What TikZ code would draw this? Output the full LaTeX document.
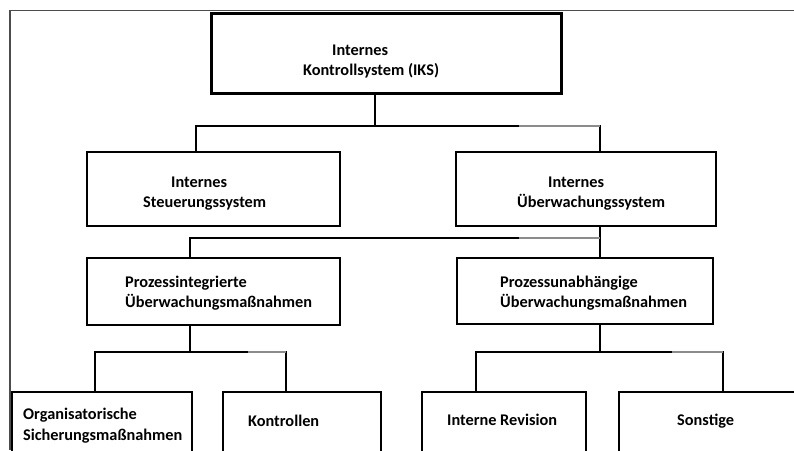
\documentclass[tikz,border=0pt]{standalone}
\usepackage{fontspec}
\setmainfont{Carlito}
\begin{document}
\begin{tikzpicture}[x=1pt,y=-1pt,
  box/.style={draw=black, line width=2pt, inner sep=0pt, fill=white},
  topbox/.style={box, line width=3pt},
  lbl/.style={anchor=base west, inner sep=0pt, font=\fontsize{16.3}{20}\selectfont\bfseries},
  conn/.style={draw=black, line width=1.5pt},
  greyseg/.style={draw=black!45, line width=1.8pt},
  frameline/.style={draw=black!70, line width=1.5pt}]
\useasboundingbox (0,0) rectangle (794,450);
\clip (0,0) rectangle (794,450);
\fill[white] (0,0) rectangle (794,450);
% outer frame
\coordinate (fTL) at (10,10.5);
\coordinate (fTR) at (794,10.5);
\coordinate (fBL) at (10,450);
\draw[frameline] (fTR) -- (fTL) -- (fBL);
% boxes
\node[topbox, minimum width=350pt, minimum height=80pt] (iks) at (386,53) {};
\node[box, minimum width=253pt, minimum height=74pt] (steu) at (213.5,189) {};
\node[box, minimum width=260pt, minimum height=74pt] (ueb) at (586,189) {};
\node[box, minimum width=253pt, minimum height=67pt] (pint) at (213.5,291.5) {};
\node[box, minimum width=256pt, minimum height=66pt] (punab) at (585,291) {};
\node[box, minimum width=180pt, minimum height=90pt] (org) at (102,437) {};
\node[box, minimum width=158pt, minimum height=90pt] (kontr) at (302,437) {};
\node[box, minimum width=164pt, minimum height=90pt] (rev) at (504,437) {};
\node[box, minimum width=200pt, minimum height=90pt] (sonst) at (719,437) {};
% texts
\node[lbl] (t1a) at (332,55) {Internes};
\node[lbl] (t1b) at (303,75) {Kontrollsystem (IKS)};
\node[lbl] (t2a) at (171,187) {Internes};
\node[lbl] (t2b) at (143,207) {Steuerungssystem};
\node[lbl] (t3a) at (548,187) {Internes};
\node[lbl] (t3b) at (517,207) {Überwachungssystem};
\node[lbl] (t4a) at (125,287) {Prozessintegrierte};
\node[lbl] (t4b) at (125,307) {Überwachungsmaßnahmen};
\node[lbl] (t5a) at (500,287) {Prozessunabhängige};
\node[lbl] (t5b) at (500,307) {Überwachungsmaßnahmen};
\node[lbl] (t6a) at (23,419) {Organisatorische};
\node[lbl] (t6b) at (23,440) {Sicherungsmaßnahmen};
\node[lbl] (t7) at (248,426) {Kontrollen};
\node[lbl] (t8) at (447,425) {Interne Revision};
\node[lbl] (t9) at (677,425) {Sonstige};
% level 1 connectors
\coordinate (j1) at (375,126);
\coordinate (j1L) at (196,126);
\coordinate (j1R) at (600,126);
\coordinate (g1) at (519,126);
\draw[conn] (iks.south -| j1) -- (j1);
\draw[conn] (steu.north -| j1L) -- (j1L) -- (j1R) -- (ueb.north -| j1R);
\draw[greyseg] (g1) -- (j1R);
% level 2 connectors
\coordinate (j2) at (600,238);
\coordinate (j2L) at (190,238);
\coordinate (g2) at (519,238);
\draw[conn] (ueb.south -| j2) -- (punab.north -| j2);
\draw[conn] (pint.north -| j2L) -- (j2L) -- (j2);
\draw[greyseg] (g2) -- (j2);
% level 3 left
\coordinate (j3) at (190,352);
\coordinate (j3L) at (95,352);
\coordinate (j3R) at (286,352);
\coordinate (g3) at (248,352);
\draw[conn] (pint.south -| j3) -- (j3);
\draw[conn] (org.north -| j3L) -- (j3L) -- (j3R) -- (kontr.north -| j3R);
\draw[greyseg] (g3) -- (j3R);
% level 3 right
\coordinate (j4) at (600,352);
\coordinate (j4L) at (476,352);
\coordinate (j4R) at (723,352);
\coordinate (g4) at (672,352);
\draw[conn] (punab.south -| j4) -- (j4);
\draw[conn] (rev.north -| j4L) -- (j4L) -- (j4R) -- (sonst.north -| j4R);
\draw[greyseg] (g4) -- (j4R);
\end{tikzpicture}
\end{document}
